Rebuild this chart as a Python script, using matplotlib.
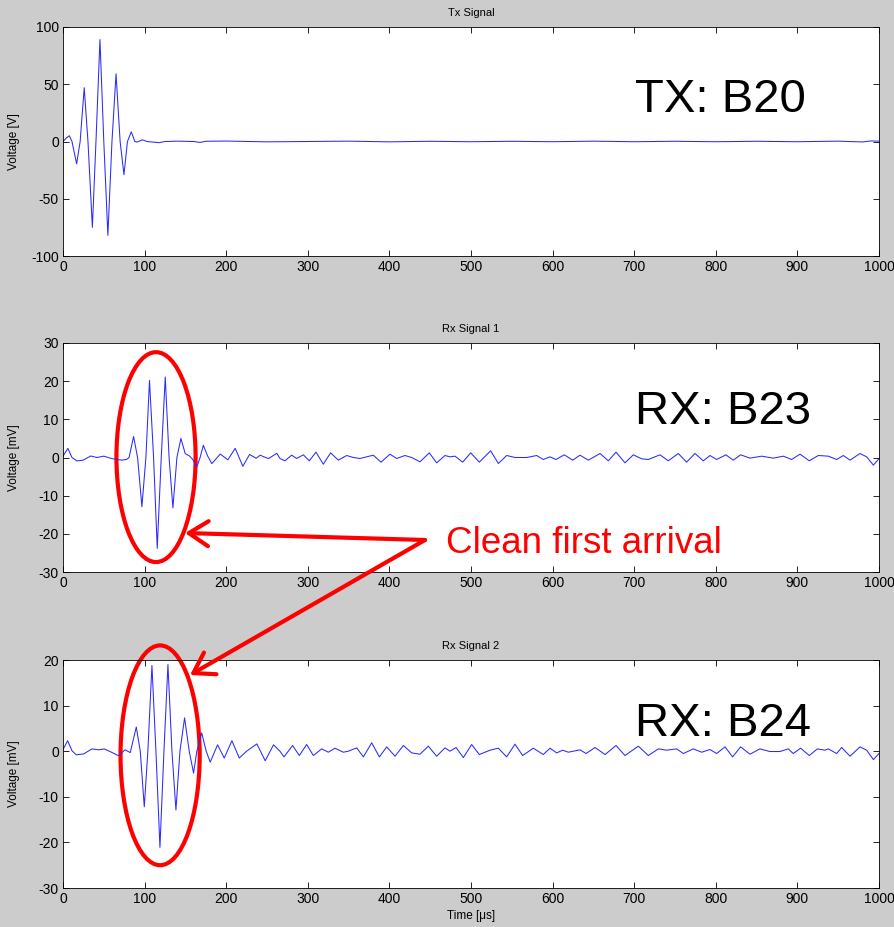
import matplotlib
matplotlib.use('Agg')
from matplotlib import pyplot
from matplotlib.patches import Ellipse

pyplot.rcParams['font.family'] = ['Liberation Sans', 'DejaVu Sans']
pyplot.rcParams['axes.unicode_minus'] = False

# Tx signal: time [us], voltage [V]
tx_t = [0, 4, 7.8, 11, 16.7, 21, 26, 30.6, 36, 40.4, 45.3, 50, 55, 60, 65, 70, 74.7, 79,
        83.7, 88, 91, 97, 103, 110, 118, 125, 140, 160, 168, 175, 200, 250, 300, 350, 400,
        450, 500, 550, 600, 650, 700, 750, 800, 850, 900, 950, 980, 990, 1000]
tx_v = [0, 3, 5, 0, -19.5, 0, 47, 0, -75, 0, 89, 0, -82, 0, 59, 0, -29, 0,
        8.5, 0, -0.5, 1.5, 0, -0.5, -1, 0, 0.3, 0, -0.8, 0.2, 0.4, -0.3, 0, 0.3, -0.3,
        0.2, -0.2, 0.2, -0.2, 0.3, -0.2, 0.2, -0.2, 0.2, -0.2, 0.3, -0.4, 0.5, 0.3]

# Rx signal 1: time [us], voltage [mV]
rx1_t = [0, 0.8, 6, 11, 17, 24.5, 34, 41.6, 50, 60, 72, 78, 81, 86.5, 91.4, 96.7, 101.6,
         106, 111, 115.5, 120.4, 125.3, 130, 134.7, 139.6, 144.5, 149.8, 155, 159, 164, 168,
         172, 177, 182.4, 192.7, 202, 211, 220.4, 228.6, 236.7, 241.6, 251.8, 262,
         265.9, 272, 280.2, 286.4, 294.5, 301.9, 310, 319, 328, 337.4, 347.6, 355.8, 364,
         380.3, 389.7, 400.7, 408.9, 419, 427.3, 437.5, 448.9, 457.9, 468.1, 474.3, 480.4,
         489.8, 499.6, 510.2, 524.1, 533.5, 543.7, 553.9, 568.2, 580.5, 588.6, 596.8, 604.2,
         614.4, 624.6, 633.6, 643.8, 658.1, 668.3, 677.7, 688.7, 698.9, 709.2, 717.3, 731.6,
         741.8, 754, 764.2, 774.5, 784.7, 792.9, 801, 812.4, 821.4, 830.4, 841.9, 856.1,
         870.4, 882.7, 892.9, 903.2, 914.6, 925.6, 937.9, 948.1, 956.3, 964.5, 976.7, 984.9,
         993.1, 1000]
rx1_v = [0.2, 0.6, 2.4, 0, -0.9, -0.7, 0.4, 0, 0.35, -0.3, -0.7, -0.5, 0, 5.5, 0, -12.9, 0,
         20.2, 0, -23.8, 0, 21.1, 0, -13.2, 0, 5.0, 1, 0.4, -0.5, -2.5, 0,
         3.2, 0.5, -1.6, 0.9, -0.6, 2.4, -2.3, 0.8, -0.2, 0.6, -0.3, 1.1,
         -0.26, -0.87, 0.61, -0.26, 0.7, -0.87, 1.4, -1.75, 1.22, -0.7, 0.52, 0, -0.26,
         0.61, -1.22, 0.87, -0.26, 0.52, 0, -1.13, 1.22, -1.4, 0.52, 0.17, 0.35,
         -1.22, 1.22, -1.22, 1.75, -1.57, 0.52, 0, 0, 0.52, -0.52, 0.17, -0.52,
         0.7, -0.7, 0.61, -0.7, 1.05, -0.87, 1.4, -1.4, 0.7, -0.35, -0.52, 0.7,
         -0.87, 1.05, -1.22, 1.05, -0.87, 0.52, -0.52, 0.7, -0.7, 0.7, -0.17, 0.35,
         -0.17, 0.35, -0.52, 0.87, -0.87, 0.52, 0.35, -0.52, 0.52, -0.7, 1.05, 0.17,
         -2.0, -0.3]

# Rx signal 2: time [us], voltage [mV]
rx2_t = [0, 1, 5.7, 11, 16.3, 25.3, 35.5, 43.7, 50.6, 58, 68, 76, 82.4, 89.8, 94.7, 99.6,
         104, 109, 113.9, 118.8, 123.7, 128.6, 133.5, 138.4, 143.3, 149, 154.7, 160, 164,
         170, 175.5, 180.4, 189.4, 197.6, 207, 216, 225, 237.6, 247.8, 258,
         265.9, 270.8, 281.4, 289.6, 298.6, 306.8, 317, 325.2, 333.3, 343.5, 349.7, 359.9,
         368.1, 378.3, 387.7, 396.7, 406.9, 417.1, 427.3, 437.5, 447.7, 457.9, 468.1, 474.3,
         481.7, 490.6, 500.8, 510.2, 523.3, 533.5, 543.7, 553.9, 563.3, 576.4, 588.6, 596.8,
         605, 612.3, 619.3, 633.6, 641, 652, 664.3, 677.7, 688.7, 705.1, 717.3, 729.6,
         739.8, 752, 760.2, 772.5, 782.7, 792.9, 801, 811.3, 820.6, 830.4, 841.9, 854.1,
         866.3, 878.6, 888.8, 894.9, 903.9, 914.6, 924.4, 933.8, 937.9, 948.1, 954.2, 964.5,
         976.7, 984.9, 993.1, 1000]
rx2_v = [0.4, 0.7, 2.3, 0.1, -0.8, -0.6, 0.5, 0.3, 0.5, -0.1, -1.0, 0.3, -0.3, 5.3, 0, -12.2,
         0, 18.8, 0, -21.1, 0, 19, 0, -12.9, 0, 7.3, 0, -4.8, 0,
         4, 0, -2.4, 1.4, -1.5, 2.3, -1.5, 0, 1.6, -2.1, 1.4,
         0, -1.25, 1.25, -0.95, 1.47, -0.95, 0.51, -0.22, 0.66, -0.22, 0, 0.73,
         -1.25, 1.84, -1.25, 0.95, -1.1, 1.25, -0.37, -0.66, 1.1, -1.1, 0.73, 0,
         0.81, -1.4, 1.47, -0.73, 0.22, 0.66, -1.25, 1.54, -0.95, 0.66, -0.73, 0.66,
         -0.37, 0.22, -0.22, 0.3, -0.51, 0.81, -0.73, 1.25, -0.95, 1.1, -0.95, 0.51,
         0.22, 0.51, -0.51, 0.51, -0.22, 0.37, -0.51, 0.95, -1.25, 0.95, -0.66, 0.51,
         -0.07, -0.07, 0.51, -0.51, 0.66, -0.95, 0.51, 0.22, 0.51, -0.51, 0.81, -1.1,
         0.95, 0.22, -1.84, -0.5]

titles = ['Tx Signal', 'Rx Signal 1', 'Rx Signal 2']
ylabels = ['Voltage [V]', 'Voltage [mV]', 'Voltage [mV]']
ylims = [(-100, 100), (-30, 30), (-30, 20)]
ysteps = [50, 10, 10]
tags = ['TX: B20', 'RX: B23', 'RX: B24']

W, H = 894, 927
figure = pyplot.figure(figsize=(W / 100, H / 100), dpi=100, facecolor='#cccccc')

# axes boxes in pixels: (top, bottom)
boxes = [(27, 256), (343, 572), (660, 888)]
left, right = 63, 879
series = [(tx_t, tx_v), (rx1_t, rx1_v), (rx2_t, rx2_v)]
axes = []
for i, (top, bot) in enumerate(boxes):
    ax = figure.add_axes([left / W, 1 - bot / H, (right - left) / W, (bot - top) / H])
    t, v = series[i]
    ax.plot(t, v, color='#2a2aff', lw=0.75)
    ax.set_xlim(0, 1000)
    ax.set_ylim(*ylims[i])
    ax.set_xticks(range(0, 1001, 100))
    ax.set_yticks(range(ylims[i][0], ylims[i][1] + 1, ysteps[i]))
    ax.tick_params(direction='in', top=True, right=True, length=4, width=0.6,
                   labelsize=10, pad=3)
    for s in ax.spines.values():
        s.set_linewidth(0.6)
    ax.set_title(titles[i], fontsize=8, pad=8)
    ax.set_ylabel(ylabels[i], fontsize=8.5)
    ax.yaxis.set_label_coords(-43 / (right - left), 0.5)
    axes.append(ax)

axes[2].set_xlabel('Time [\u03bcs]', fontsize=8.5, labelpad=3)

# big labels (baseline positions in pixels)
for tag, base in zip(tags, [112, 424, 736]):
    figure.text(635 / W, 1 - base / H, tag, fontsize=34, va='baseline', ha='left')

figure.text(446 / W, 1 - 553 / H, 'Clean first arrival', fontsize=26.5, color='#ff0000',
            va='baseline', ha='left')

# ellipses around the first arrivals
axes[1].add_patch(Ellipse((114, 0.1), 97, 55, fill=False, ec='#ff0000', lw=3, clip_on=False))
axes[2].add_patch(Ellipse((119, -0.9), 97, 48.2, fill=False, ec='#ff0000', lw=3, clip_on=False))

# arrows from the text to the ellipses
origin = (425, H - 540)
for tip in [(185, H - 533), (190, H - 675)]:
    axes[2].annotate('', xy=tip, xycoords='figure pixels', xytext=origin,
                     textcoords='figure pixels',
                     arrowprops=dict(arrowstyle='->,head_length=0.7,head_width=0.45',
                                     color='#ff0000', lw=3, mutation_scale=20,
                                     shrinkA=0, shrinkB=0))

figure.savefig('out.png', dpi=100, facecolor=figure.get_facecolor())
